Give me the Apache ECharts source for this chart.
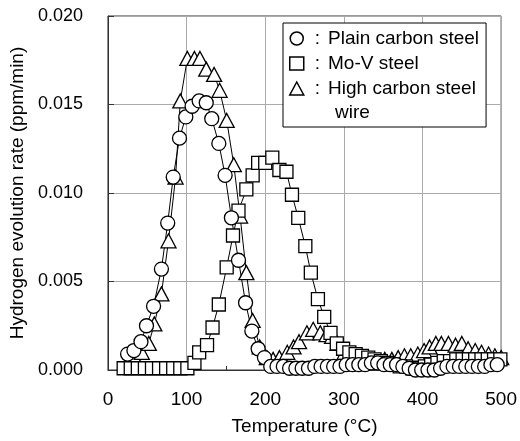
<!DOCTYPE html>
<html>
<head>
<meta charset="utf-8">
<script src="https://cdn.jsdelivr.net/npm/echarts@6/dist/echarts.min.js"></script>
<style>
  html, body { margin: 0; padding: 0; background: #fff; }
  #chart { width: 520px; height: 441px; }
</style>
</head>
<body>
<div id="chart"></div>
<script>
// temperature (°C) and hydrogen evolution rate (ppm/min)
const plainTemp = [25, 33, 42, 49, 58, 68, 76, 83, 91, 99, 107, 116, 125, 132, 141, 149, 157, 166, 175, 183, 191, 199, 207,
  215, 223, 231, 239, 247, 255, 263, 271, 279, 287, 295, 303, 311, 319, 327, 335, 343, 351, 359, 367, 375, 383, 391, 399,
  407, 415, 423, 431, 439, 447, 455, 463, 471, 479, 487, 495];
const plainRate = [0.0009, 0.0011, 0.0016, 0.0025, 0.0036, 0.0057, 0.0083, 0.0109, 0.0131, 0.0143, 0.0149, 0.0152, 0.0151,
  0.0142, 0.0128, 0.0110, 0.0086, 0.0062, 0.0038, 0.0022, 0.0012, 0.0007, 0.0002,
  0.0002, 0.0002, 0.0001, 0.0001, 0.0001, 0.0001, 0.0002, 0.0002, 0.0002, 0.0002, 0.0002, 0.0003, 0.0003, 0.0003, 0.0003,
  0.0004, 0.0004, 0.0003, 0.0003, 0.0003, 0.0002, 0.0001, 0.0000, 0.0000, 0.0000, 0.0000, 0.0001, 0.0002, 0.0002, 0.0002,
  0.0002, 0.0002, 0.0002, 0.0002, 0.0003, 0.0003];

const movTemp = [20, 29, 38, 47, 56, 65, 74, 83, 92, 101, 110, 116, 126, 133, 141, 151, 159, 166, 176, 184, 191, 200, 209,
  218, 227, 234, 242, 251, 258, 267, 275, 283, 291, 299, 307, 315, 323, 331, 339, 347, 355, 363, 371, 379, 387, 395, 403,
  411, 419, 427, 435, 443, 451, 459, 467, 475, 483, 491, 499];
const movRate = [0.0001, 0.0001, 0.0001, 0.0001, 0.0001, 0.0001, 0.0001, 0.0001, 0.0001, 0.0001, 0.0004, 0.0010, 0.0014,
  0.0024, 0.0037, 0.0058, 0.0076, 0.0090, 0.0102, 0.0110, 0.0117, 0.0117, 0.0120, 0.0113, 0.0112, 0.0099, 0.0086, 0.0070,
  0.0055, 0.0040, 0.0030, 0.0021, 0.0015, 0.0012, 0.0010, 0.0009, 0.0008, 0.0007, 0.0006, 0.0005, 0.0004, 0.0003, 0.0002,
  0.0002, 0.0001, 0.0001, 0.0002, 0.0003, 0.0004, 0.0005, 0.0005, 0.0006, 0.0006, 0.0006, 0.0006, 0.0006, 0.0006, 0.0006,
  0.0006];

const wireTemp = [26, 34, 43, 52, 59, 68, 77, 86, 92, 101, 110, 117, 125, 135, 142, 151, 160, 168, 176, 184, 193, 202, 210,
  218, 228, 236, 243, 253, 261, 270, 278, 285, 292, 301, 310, 317, 326, 335, 344, 352, 361, 369, 377, 385, 394, 402, 409,
  417, 424, 433, 442, 450, 458, 467, 475, 484, 492, 500];
const wireRate = [0.00045, 0.0007, 0.0010, 0.0015, 0.0026, 0.0043, 0.0073, 0.0109, 0.0152, 0.0176, 0.0176, 0.0176, 0.0170,
  0.0167, 0.0158, 0.0141, 0.0116, 0.0087, 0.0055, 0.0028, 0.0013, 0.0007, 0.0006, 0.0007, 0.0010, 0.0013, 0.0016, 0.0021,
  0.0023, 0.0021, 0.0020, 0.0019, 0.0015, 0.0010, 0.0007, 0.0006, 0.0006, 0.0005, 0.0005, 0.0006, 0.0006, 0.0007, 0.0008,
  0.0008, 0.0009, 0.0011, 0.0013, 0.0015, 0.0015, 0.0015, 0.0014, 0.0015, 0.0012, 0.0011, 0.0010, 0.0009, 0.0008, 0.0007];

const xTicks = [0, 100, 200, 300, 400, 500];
const yTicks = [0, 0.005, 0.01, 0.015, 0.02];

const zip = (xs, ys) => xs.map((x, i) => [x, ys[i]]);
const font = 'Liberation Sans, Arial, sans-serif';

const chart = echarts.init(document.getElementById('chart'), null, { renderer: 'canvas' });

const makeSeries = (name, symbol, size, data) => ({
  name,
  type: 'line',
  data,
  symbol,
  symbolSize: size,
  showAllSymbol: true,
  clip: false,
  lineStyle: { color: '#000', width: 1 },
  itemStyle: { color: '#fff', borderColor: '#000', borderWidth: 1.3 },
  emphasis: { disabled: true },
  z: 3,
});

const legendIcon = { color: '#fff', borderColor: '#000', borderWidth: 1.5 };

chart.setOption({
  animation: false,
  backgroundColor: '#fff',
  textStyle: { fontFamily: font },
  grid: {
    left: 106, right: 17, top: 16, bottom: 71,
    show: true, borderColor: '#333', borderWidth: 1, backgroundColor: 'transparent',
  },
  legend: {
    orient: 'vertical',
    left: 283, top: 23,
    padding: [6, 7, 29, 6],
    itemGap: 6,
    itemWidth: 14, itemHeight: 13,
    borderColor: '#000', borderWidth: 1,
    backgroundColor: '#fff',
    selectedMode: false,
    textStyle: {
      fontFamily: font, fontSize: 19, color: '#000',
      rich: { c: { fontFamily: font, fontSize: 19, color: '#000', padding: [0, 8, 0, 6] } },
    },
    formatter: (name) => '{c|:}' + name,
    data: [
      { name: 'Plain carbon steel', icon: 'circle', itemStyle: legendIcon },
      { name: 'Mo-V steel', icon: 'rect', itemStyle: legendIcon },
      { name: 'High carbon steel', icon: 'triangle', itemStyle: legendIcon },
    ],
  },
  graphic: [{
    type: 'text', left: 335, top: 103,
    style: { text: 'wire', font: '19px ' + font, fill: '#000' },
    z: 100,
  }],
  xAxis: {
    type: 'value',
    min: xTicks[0], max: xTicks[xTicks.length - 1], interval: 100,
    name: 'Temperature (°C)',
    nameLocation: 'middle', nameGap: 47,
    nameTextStyle: { fontFamily: font, fontSize: 19, color: '#000' },
    axisLine: { show: true, lineStyle: { color: '#333' } },
    axisTick: { show: true, inside: true, length: 4, lineStyle: { color: '#333' } },
    minorTick: { show: true, splitNumber: 2, length: 4, lineStyle: { color: '#333' } },
    axisLabel: { fontFamily: font, fontSize: 19, color: '#000', margin: 20 },
    splitLine: { show: true, lineStyle: { color: '#aaa', width: 1 } },
  },
  yAxis: {
    type: 'value',
    min: yTicks[0], max: yTicks[yTicks.length - 1], interval: 0.005,
    name: 'Hydrogen evolution rate (ppm/min)',
    nameLocation: 'middle', nameGap: 78, nameRotate: 90,
    nameTextStyle: { fontFamily: font, fontSize: 19, color: '#000' },
    axisLine: { show: true, lineStyle: { color: '#333' } },
    axisTick: { show: true, inside: true, length: 6, lineStyle: { color: '#333' } },
    axisLabel: { fontFamily: font, fontSize: 18, color: '#000', margin: 25, formatter: (v) => v.toFixed(3) },
    splitLine: { show: true, lineStyle: { color: '#aaa', width: 1 } },
  },
  series: [
    makeSeries('High carbon steel', 'triangle', [15, 14], zip(wireTemp, wireRate)),
    makeSeries('Mo-V steel', 'rect', 13, zip(movTemp, movRate)),
    makeSeries('Plain carbon steel', 'circle', 14, zip(plainTemp, plainRate)),
  ],
});
</script>
</body>
</html>
